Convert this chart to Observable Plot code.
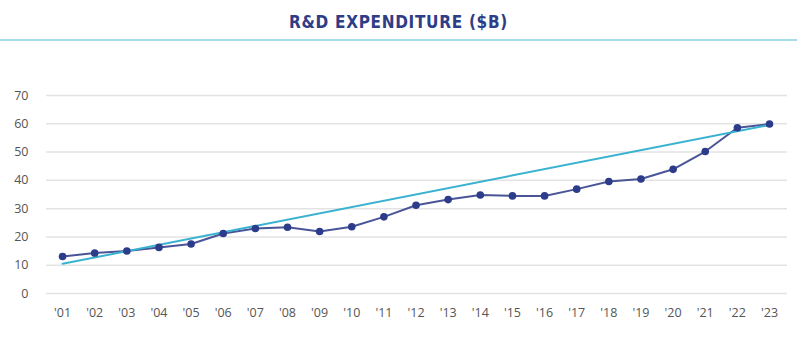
<!DOCTYPE html>
<html>
<head>
<meta charset="utf-8">
<script src="https://cdn.jsdelivr.net/npm/d3@7"></script>
<script src="https://cdn.jsdelivr.net/npm/@observablehq/plot@0.6"></script>
<style>
  html, body { margin: 0; padding: 0; background: #fff; }
  #title {
    height: 41px; box-sizing: border-box; padding-top: 12px;
    text-align: center; color: #2e3d86;
    font-family: "DejaVu Sans Condensed", "DejaVu Sans", sans-serif;
    font-weight: 700; font-size: 17px; letter-spacing: 0.7px;
    border-bottom: 2px solid #a6dbea; width: 797px;
  }
</style>
</head>
<body>
<div id="title">R&amp;D EXPENDITURE ($B)</div>
<div id="chart"></div>
<script>
const years = [2001,2002,2003,2004,2005,2006,2007,2008,2009,2010,2011,2012,2013,2014,2015,2016,2017,2018,2019,2020,2021,2022,2023];
const spend = [13.1,14.3,15.0,16.3,17.5,21.2,23.0,23.4,21.9,23.6,27.1,31.2,33.2,34.8,34.5,34.5,36.9,39.6,40.5,43.9,50.2,58.6,59.9];
const trendYears = [2001, 2023];
const trendValues = [10.5, 59.6];
const yTicks = [0,10,20,30,40,50,60,70];

const data = years.map((y, i) => ({year: y, value: spend[i]}));
const trend = trendYears.map((y, i) => ({year: y, value: trendValues[i]}));
const fmt = d => "'" + String(d).slice(2);

const chart = Plot.plot({
  width: 800,
  height: 310,
  marginLeft: 46,
  marginRight: 13,
  marginTop: 54,
  marginBottom: 58,
  style: { fontFamily: "'Open Sans', sans-serif", fontSize: "12.5px", color: "#555", background: "#fff" },
  x: { domain: [2000.5, 2023.56], label: null },
  y: { domain: [0, 70], label: null },
  marks: [
    Plot.gridY(yTicks, { stroke: "#e3e3e3", strokeOpacity: 1, strokeWidth: 1.5 }),
    Plot.axisX({ ticks: years, tickFormat: fmt, tickSize: 0, tickPadding: 15, fill: "#555", label: null }),
    Plot.axisY({ ticks: yTicks, tickSize: 0, tickPadding: 18, fill: "#555", label: null }),
    Plot.line(data, { x: "year", y: "value", stroke: "#4a5598", strokeWidth: 2 }),
    Plot.line(trend, { x: "year", y: "value", stroke: "#39b2d0", strokeWidth: 2 }),
    Plot.dot(data, { x: "year", y: "value", r: 3.8, fill: "#2c3c8a" })
  ]
});
document.getElementById("chart").appendChild(chart);
</script>
</body>
</html>
